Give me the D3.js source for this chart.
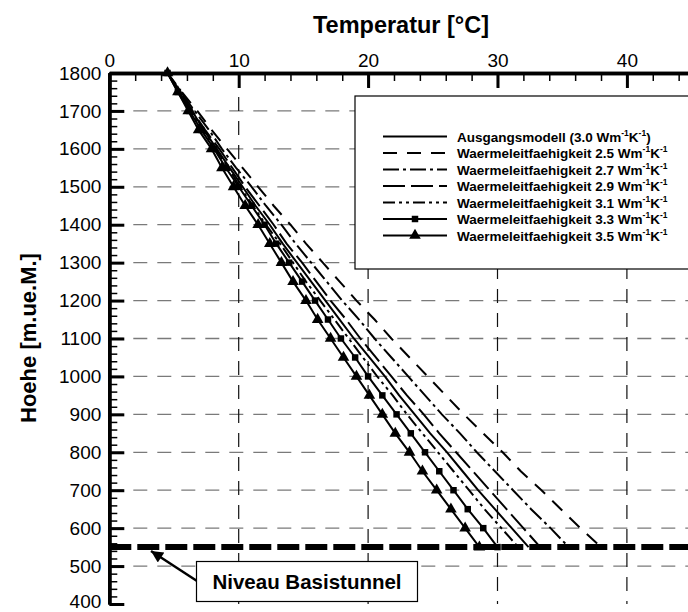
<!DOCTYPE html>
<html><head><meta charset="utf-8">
<script src="https://cdn.jsdelivr.net/npm/d3@7"></script>
<style>
body{margin:0;background:#fff}
svg{display:block}
text{font-family:"Liberation Sans",Arial,Helvetica,sans-serif}
</style></head><body>
<svg id="chart" width="688" height="612"></svg>
<script>
// Elevation levels (m a.s.l.) at which the profiles are sampled
const heights = [1800,1750,1700,1650,1600,1550,1500,1450,1400,1350,1300,1250,1200,
                 1150,1100,1050,1000,950,900,850,800,750,700,650,600,550];

// Temperature profiles (°C) for each thermal conductivity
const temp30 = [4.5,5.4,6.4,7.3,8.3,9.3,10.3,11.3,12.4,13.4,14.5,15.6,16.7,17.8,18.9,20.1,21.3,22.4,23.6,24.8,26.1,27.3,28.5,29.8,31.1,32.4];
const temp25 = [4.5,5.6,6.8,7.9,9.1,10.3,11.5,12.7,14.0,15.2,16.5,17.8,19.1,20.5,21.8,23.2,24.6,26.0,27.4,28.9,30.4,31.8,33.4,34.9,36.4,38.0];
const temp27 = [4.5,5.5,6.6,7.7,8.7,9.8,11.0,12.1,13.3,14.4,15.6,16.8,18.0,19.3,20.5,21.8,23.1,24.4,25.7,27.1,28.4,29.8,31.2,32.6,34.1,35.5];
const temp29 = [4.5,5.5,6.4,7.4,8.5,9.5,10.5,11.6,12.7,13.7,14.9,16.0,17.1,18.3,19.4,20.6,21.8,23.0,24.3,25.5,26.8,28.1,29.4,30.7,32.0,33.3];
const temp31 = [4.5,5.4,6.3,7.2,8.2,9.2,10.1,11.1,12.1,13.2,14.2,15.2,16.3,17.4,18.5,19.6,20.7,21.9,23.0,24.2,25.4,26.6,27.8,29.0,30.3,31.6];
const temp33 = [4.5,5.3,6.2,7.1,8.1,9.0,10.0,11.0,12.0,12.9,13.9,14.9,15.9,16.9,17.9,19.0,20.0,21.1,22.2,23.3,24.4,25.5,26.6,27.7,28.9,30.0];
const temp35 = [4.5,5.3,6.1,6.9,7.9,8.7,9.6,10.5,11.5,12.4,13.3,14.2,15.2,16.1,17.1,18.1,19.1,20.1,21.1,22.1,23.2,24.2,25.3,26.4,27.5,28.6];

// Legend labels
const seriesLabels = [
  {pre:"Ausgangsmodell (3.0 Wm", post:")"},
  {pre:"Waermeleitfaehigkeit 2.5 Wm", post:""},
  {pre:"Waermeleitfaehigkeit 2.7 Wm", post:""},
  {pre:"Waermeleitfaehigkeit 2.9 Wm", post:""},
  {pre:"Waermeleitfaehigkeit 3.1 Wm", post:""},
  {pre:"Waermeleitfaehigkeit 3.3 Wm", post:""},
  {pre:"Waermeleitfaehigkeit 3.5 Wm", post:""}
];
const seriesValues = [temp30, temp25, temp27, temp29, temp31, temp33, temp35];

// Axis ticks
const tempTicks = [0,10,20,30,40];
const heightTicks = [1800,1700,1600,1500,1400,1300,1200,1100,1000,900,800,700,600,500,400];
const tunnelLevel = 550;
const tunnelLabel = "Niveau Basistunnel";

// Line styles per series
const styles = [
  {dash:null, marker:null},
  {dash:"14,10", marker:null},
  {dash:"16,4,3,4", marker:null},
  {dash:"22,6", marker:null},
  {dash:"12,4,3,4,3,4", marker:null},
  {dash:null, marker:"square"},
  {dash:null, marker:"triangle"}
];

const svg = d3.select("#chart");
const x = d3.scaleLinear().domain([0,45]).range([109.3, 691.6]);
const y = d3.scaleLinear().domain([400,1800]).range([604,73]);

// Grid
const grid = svg.append("g");
grid.selectAll("line.h").data(heightTicks.filter(h => h > 400 && h < 1800)).join("line")
  .attr("x1", x(0)).attr("x2", x(45)).attr("y1", d => y(d)).attr("y2", d => y(d))
  .attr("stroke", "#7a7a7a").attr("stroke-width", 1.3).attr("stroke-dasharray", "14,10");
grid.selectAll("line.v").data(tempTicks.filter(t => t > 0)).join("line")
  .attr("x1", d => x(d)).attr("x2", d => x(d)).attr("y1", y(1800)).attr("y2", y(400))
  .attr("stroke", "#111").attr("stroke-width", 1.2).attr("stroke-dasharray", "14,10");

// Profiles
const line = d3.line().x(d => x(d[1])).y(d => y(d[0]));
function markerSymbol(kind) {
  return d3.symbol().type(kind === "square" ? d3.symbolSquare : d3.symbolTriangle)
    .size(kind === "square" ? 42 : 58);
}
seriesValues.forEach((vals, i) => {
  const pts = heights.map((h, j) => [h, vals[j]]);
  const g = svg.append("g");
  g.append("path").attr("d", line(pts)).attr("fill", "none").attr("stroke", "#000")
    .attr("stroke-width", 2).attr("stroke-dasharray", styles[i].dash);
  if (styles[i].marker) {
    g.selectAll("path.m").data(pts).join("path").attr("class","m")
      .attr("d", markerSymbol(styles[i].marker))
      .attr("transform", d => `translate(${x(d[1])},${y(d[0])})`).attr("fill", "#000");
  }
});

// Tunnel level
svg.append("line").attr("x1", x(0)).attr("x2", x(45))
  .attr("y1", y(tunnelLevel)).attr("y2", y(tunnelLevel))
  .attr("stroke", "#000").attr("stroke-width", 6).attr("stroke-dasharray", "22,6");

// Axes
const axisFont = 19;
const topMajor = d3.axisTop(x).tickValues(tempTicks).tickSizeInner(-15).tickSizeOuter(0).tickPadding(6);
const topMinor = d3.axisTop(x).tickValues(d3.range(0, 46, 2).filter(v => v % 10 !== 0)).tickSizeInner(-8).tickSizeOuter(0).tickFormat("");
const leftMajor = d3.axisLeft(y).tickValues(heightTicks).tickSizeInner(-15).tickSizeOuter(0).tickPadding(8).tickFormat(d3.format("d"));
const leftMinor = d3.axisLeft(y).tickValues(d3.range(400, 1801, 20).filter(v => v % 100 !== 0)).tickSizeInner(-8).tickSizeOuter(0).tickFormat("");

function styleAxis(g, major) {
  g.select(".domain").attr("stroke", "#000").attr("stroke-width", 3.5);
  g.selectAll(".tick line").attr("stroke", "#000").attr("stroke-width", major ? 3 : 1.5);
  g.selectAll(".tick text").attr("font-size", axisFont).attr("fill", "#000");
}
svg.append("g").attr("transform", `translate(0,${y(1800)})`).call(topMinor).call(g => styleAxis(g, false));
svg.append("g").attr("transform", `translate(0,${y(1800)})`).call(topMajor).call(g => styleAxis(g, true));
svg.append("g").attr("transform", `translate(${x(0)},0)`).call(leftMinor).call(g => styleAxis(g, false));
svg.append("g").attr("transform", `translate(${x(0)},0)`).call(leftMajor).call(g => styleAxis(g, true))
  .call(g => g.selectAll(".tick text").filter(d => d === 400).attr("dy", "0.2em"));

// Axis titles
svg.append("text").attr("x", 401).attr("y", 33).attr("text-anchor", "middle")
  .attr("font-size", 23.5).attr("font-weight", "bold").text("Temperatur [°C]");
svg.append("text").attr("transform", `translate(36,338) rotate(-90)`).attr("text-anchor", "middle")
  .attr("font-size", 22).attr("font-weight", "bold").text("Hoehe [m.ue.M.]");

// Legend
const lg = svg.append("g");
lg.append("rect").attr("x", 355).attr("y", 96).attr("width", 360).attr("height", 173)
  .attr("fill", "#fff").attr("stroke", "#000").attr("stroke-width", 1.2);
seriesLabels.forEach((lab, i) => {
  const yy = 136.5 + i * 16.5;
  lg.append("line").attr("x1", 383).attr("x2", 447).attr("y1", yy).attr("y2", yy)
    .attr("stroke", "#000").attr("stroke-width", 2).attr("stroke-dasharray", styles[i].dash);
  if (styles[i].marker) {
    lg.append("path").attr("d", markerSymbol(styles[i].marker))
      .attr("transform", `translate(415,${yy})`).attr("fill", "#000");
  }
  const t = lg.append("text").attr("x", 457).attr("y", yy + 5).attr("font-size", 13.5).attr("font-weight", "bold");
  t.append("tspan").text(lab.pre);
  t.append("tspan").attr("font-size", 8.5).attr("dy", -6).text("-1");
  t.append("tspan").attr("dy", 6).text("K");
  t.append("tspan").attr("font-size", 8.5).attr("dy", -6).text("-1");
  if (lab.post) t.append("tspan").attr("dy", 6).text(lab.post);
});

// Tunnel annotation
svg.append("defs").append("marker").attr("id", "head").attr("viewBox", "0 0 10 10")
  .attr("refX", 10).attr("refY", 5).attr("markerWidth", 26).attr("markerHeight", 12)
  .attr("markerUnits", "userSpaceOnUse").attr("orient", "auto")
  .append("path").attr("d", "M0,0L10,5L0,10Z").attr("fill", "#000");
svg.append("line").attr("x1", 197).attr("y1", 581).attr("x2", 151).attr("y2", 551)
  .attr("stroke", "#000").attr("stroke-width", 2.5).attr("marker-end", "url(#head)");
svg.append("rect").attr("x", 196.5).attr("y", 561.5).attr("width", 221).attr("height", 40)
  .attr("fill", "#fff").attr("stroke", "#000").attr("stroke-width", 1.2);
svg.append("text").attr("x", 307).attr("y", 589).attr("text-anchor", "middle")
  .attr("font-size", 20.5).attr("font-weight", "bold").text(tunnelLabel);
</script>
</body></html>
